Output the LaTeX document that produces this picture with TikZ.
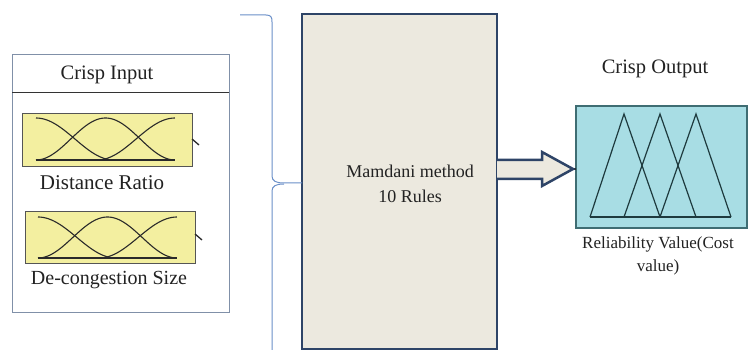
\documentclass[tikz,border=0pt]{standalone}
\usepackage{fontspec}
\setmainfont{Liberation Serif}
\definecolor{inframe}{HTML}{8090A8}
\definecolor{divcol}{HTML}{333333}
\definecolor{mfyellow}{HTML}{F3EFA0}
\definecolor{mfborder}{HTML}{555555}
\definecolor{curvecol}{HTML}{2A2A2A}
\definecolor{bracecol}{HTML}{6B90C9}
\definecolor{midfill}{HTML}{ECE9DF}
\definecolor{midborder}{HTML}{2E4467}
\definecolor{outfill}{HTML}{A8DDE4}
\definecolor{outborder}{HTML}{3F6D73}
\definecolor{tricol}{HTML}{1E3A3E}
\definecolor{txtcol}{HTML}{222222}
\newcommand\mfcurves[4]{% L R T B
  \draw[curve] plot[domain=0:1,samples=40,smooth] ({#1+(0.56*(#2-#1))*\x},{#3+(#4-#3)*(1-cos(180*\x))/2});
  \draw[curve] plot[domain=0:1,samples=60,smooth] ({#1+(#2-#1)*\x},{#4-(#4-#3)*(1-cos(360*\x))/2});
  \draw[curve] plot[domain=0:1,samples=40,smooth] ({#2-(0.56*(#2-#1))*(1-\x)},{#4-(#4-#3)*(1-cos(180*\x))/2});
  \draw[curve] (#1,#4) -- (#2,#4);
}
\begin{document}
\begin{tikzpicture}[x=1pt,y=-1pt,
  inbox/.style={draw=inframe, line width=1pt, inner sep=0pt, outer sep=0pt, anchor=north west},
  mfbox/.style={draw=mfborder, fill=mfyellow, line width=1pt, inner sep=0pt, outer sep=0pt, anchor=north west},
  curve/.style={draw=curvecol, line width=1.1pt},
  brace/.style={draw=bracecol, line width=1pt},
  midbox/.style={draw=midborder, fill=midfill, line width=2.5pt, inner sep=0pt, outer sep=0pt, anchor=north west},
  blockarrow/.style={draw=midborder, fill=midfill, line width=2.5pt, line join=miter},
  outbox/.style={draw=outborder, fill=outfill, line width=1.2pt, inner sep=0pt, outer sep=0pt, anchor=north west},
  tri/.style={draw=tricol, line width=1.2pt, line join=miter},
  lbl/.style={text=txtcol, inner sep=0pt, anchor=center},
  tick/.style={draw=curvecol, line width=1.3pt}
]
\useasboundingbox (0,0) rectangle (748,350);
\fill[white] (0,0) rectangle (748,350);

% Crisp input panel
\node[inbox, minimum width=217pt, minimum height=257pt] (inpanel) at (12,55) {};
\draw[divcol, line width=0.9pt] (12,92) -- (229,92);
\node[lbl, font=\fontsize{20.5}{22}\selectfont] (intitle) at (107,75) {Crisp Input};

% membership boxes
\node[mfbox, minimum width=170pt, minimum height=53pt] (mf1) at (22,114) {};
\mfcurves{36}{175}{118}{160}
\draw[tick] (192,139) -- (199,145);
\node[lbl, font=\fontsize{21}{22}\selectfont] (mf1lbl) at (102,183) {Distance Ratio};

\node[mfbox, minimum width=170pt, minimum height=52pt] (mf2) at (25,212) {};
\mfcurves{38}{177}{217}{258}
\draw[tick] (195,234) -- (202,240);
\node[lbl, font=\fontsize{20}{22}\selectfont] (mf2lbl) at (109,280) {De-congestion Size};

% Mamdani box
\node[midbox, minimum width=195pt, minimum height=335pt] (mid) at (302,14) {};
\node[lbl, font=\fontsize{18}{25}\selectfont, align=center] (midtxt) at (410,184) {Mamdani method\\10 Rules};

% brace
\coordinate (btip) at (mid.west |- 0,183);
\draw[brace] (240,15) -- (266,15) .. controls (271,15) and (272,17) .. (272,22) -- (272,176)
  .. controls (272,181) and (276,183) .. (284,183) -- (btip);
\draw[brace] (284,184) .. controls (276,184) and (272,186) .. (272,191) -- (272,350);

% output box
\node[outbox, minimum width=171pt, minimum height=122pt] (out) at (576,106) {};
\draw[tri] (590,217) -- (624,114) -- (660,217);
\draw[tri] (624,217) -- (660,114) -- (696,217);
\draw[tri] (660,217) -- (696,114) -- (731,217);
\draw[tri] (590,217) -- (731,217);
\coordinate (arrtip) at (573,169);
\draw[curvecol, line width=1.2pt] (arrtip) -- (out.west |- arrtip);

% block arrow
\filldraw[blockarrow] (mid.east |- 0,160) -- (542,160) -- (542,152) -- (arrtip) -- (542,186) -- (542,179) -- (mid.east |- 0,179);

\node[lbl, font=\fontsize{20.5}{22}\selectfont] (outtitle) at (655,69) {Crisp Output};
\node[lbl, font=\fontsize{17}{23}\selectfont, align=center] (outlbl) at (658,256) {Reliability Value(Cost\\value)};
\end{tikzpicture}
\end{document}
